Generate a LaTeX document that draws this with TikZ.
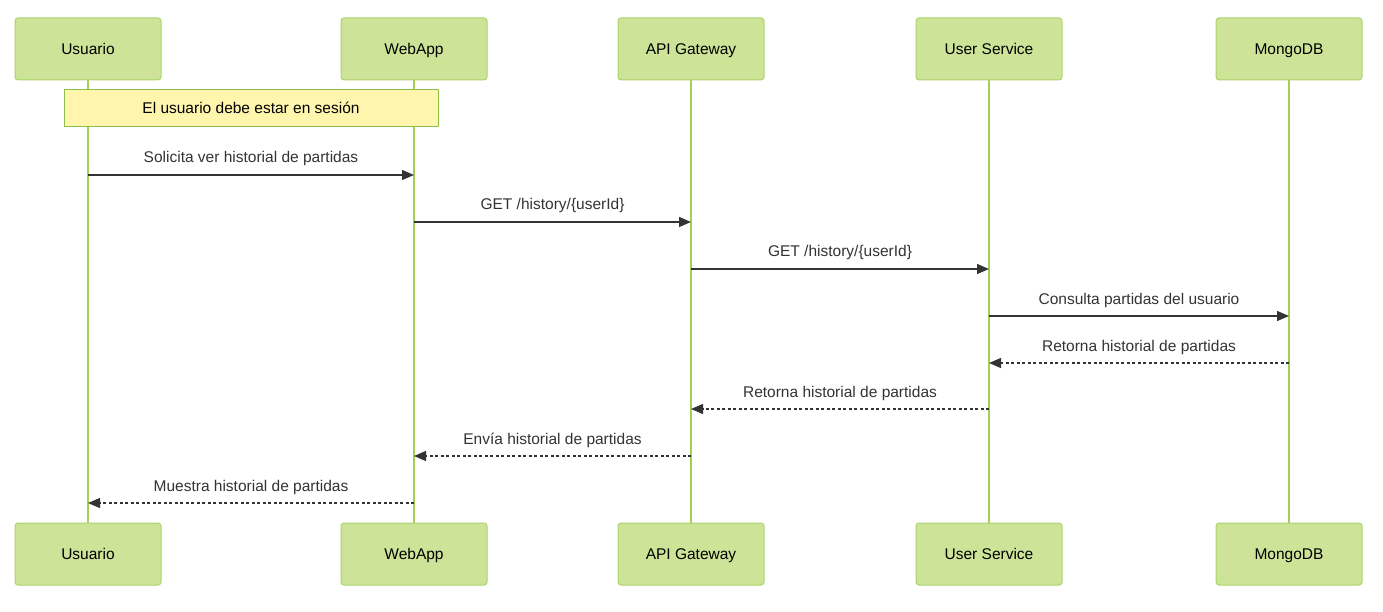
\documentclass[tikz,border=0pt]{standalone}
\usepackage{fontspec}
\setmainfont{Liberation Sans}
\usetikzlibrary{arrows.meta,calc}
\definecolor{actorfill}{HTML}{CDE498}
\definecolor{actorline}{HTML}{A9D36C}
\definecolor{lifeline}{HTML}{A3CF52}
\definecolor{notefill}{HTML}{FFF5AD}
\definecolor{noteline}{HTML}{8CC04A}
\definecolor{msgtext}{HTML}{333333}

\tikzset{
  actor/.style={draw=actorline,fill=actorfill,rounded corners=3pt,line width=1pt,
    minimum width=146pt,minimum height=62pt,inner sep=0pt,text height=12.5pt,text depth=1.5pt,
    font=\fontsize{15.5}{18}\selectfont},
  life/.style={lifeline,line width=1.6pt},
  msg/.style={msgtext,line width=1.3pt,-{Triangle[length=12pt,width=10pt]}},
  reply/.style={msg,dash pattern=on 3pt off 2.5pt},
  lbl/.style={midway,yshift=17pt,text=msgtext,text height=12pt,text depth=2pt,
    font=\fontsize{15.5}{18}\selectfont}
}

\begin{document}
\begin{tikzpicture}[x=1pt,y=-1pt]
  \useasboundingbox (0,0) rectangle (1383,612);
  % actors, top and bottom, with their lifelines
  \foreach \n/\x/\t in {usr/88/Usuario, web/414/WebApp, api/691/API Gateway,
      svc/989/User Service, db/1289/MongoDB} {
    \draw[life] (\x,80) -- (\x,523);
    \node[actor] (\n top) at (\x,49) {\t};
    \node[actor] (\n bot) at (\x,554) {\t};
  }
  \node[draw=noteline,fill=notefill,line width=1pt,minimum width=374pt,minimum height=37pt,
    inner sep=0pt,text height=12.5pt,text depth=1.5pt,font=\fontsize{15.5}{18}\selectfont]
    (note) at (251,108.5) {El usuario debe estar en sesión};

  % messages
  \draw[msg] (usrtop |- 0,175) -- (webtop |- 0,175) node[lbl] {Solicita ver historial de partidas};
  \draw[msg] (webtop |- 0,222) -- (apitop |- 0,222) node[lbl] {GET /history/\{userId\}};
  \draw[msg] (apitop |- 0,269) -- (svctop |- 0,269) node[lbl] {GET /history/\{userId\}};
  \draw[msg] (svctop |- 0,316) -- (dbtop |- 0,316) node[lbl] {Consulta partidas del usuario};
  \draw[reply] (dbtop |- 0,363) -- (svctop |- 0,363) node[lbl] {Retorna historial de partidas};
  \draw[reply] (svctop |- 0,409) -- (apitop |- 0,409) node[lbl] {Retorna historial de partidas};
  \draw[reply] (apitop |- 0,456) -- (webtop |- 0,456) node[lbl] {Envía historial de partidas};
  \draw[reply] (webtop |- 0,503) -- (usrtop |- 0,503) node[lbl] {Muestra historial de partidas};
\end{tikzpicture}
\end{document}
